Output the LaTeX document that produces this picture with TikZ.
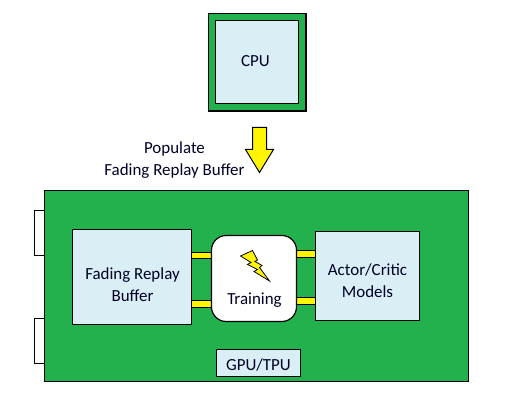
\documentclass[tikz,border=0pt]{standalone}
\usepackage{fontspec}
\setmainfont{Carlito}
\definecolor{boardgreen}{HTML}{22B14C}
\definecolor{paleblue}{HTML}{DAEEF6}
\definecolor{boltyellow}{HTML}{FFF500}
\tikzset{
  px/.style={x=0.75pt,y=-0.75pt},
  outline/.style={draw=black,line width=0.9pt},
  board/.style={outline,fill=boardgreen},
  panel/.style={outline,fill=paleblue},
  lbl/.style={font=\fontsize{12.7pt}{16.5pt}\selectfont,align=center,text=black!85!blue,inner sep=0pt},
  link/.style={draw=black,fill=boltyellow,line width=0.6pt},
}
\begin{document}
\begin{tikzpicture}[px]
\useasboundingbox (0,0) rectangle (519,409);
% add-on tabs
\draw[outline,fill=white] (44.5,210.5) -| (34.5,255.5) -- (44.5,255.5);
\draw[outline,fill=white] (44.5,318.5) -| (34.5,363.5) -- (44.5,363.5);
% CPU
\draw[board] (208.5,13.5) rectangle (306,111);
\draw[panel] (215.5,20.5) rectangle (298.5,103.5);
\node[lbl] (cpu) at (255.5,61) {CPU};
% arrow
\draw[outline,fill=boltyellow,line width=0.75pt] (252.5,127.5) -- (266.5,127.5) -- (266.5,149.5) -- (273.5,149.5) -- (259.5,172.5) -- (245.5,149.5) -- (252.5,149.5) -- cycle;
\node[lbl] (pop) at (174.5,160) {Populate\\Fading Replay Buffer};
% board
\draw[board] (44.5,190.5) rectangle (468.5,381.5);
% links
\draw[link] (191.5,252) rectangle (211.5,258.5);
\draw[link] (191.5,300.5) rectangle (211.5,307);
\draw[link] (296.5,250) rectangle (315.5,257);
\draw[link] (296.5,297) rectangle (315.5,304);
% boxes
\draw[panel] (72.5,229.5) rectangle (191.5,324.5);
\node[lbl] (frb) at (132.5,285) {Fading Replay\\Buffer};
\draw[panel] (315.5,231.5) rectangle (419.5,320.5);
\node[lbl] (ac) at (367.5,280.5) {Actor/Critic\\Models};
\draw[outline,fill=white,rounded corners=11pt] (211.5,235.5) rectangle (296.5,321.5);
\node[lbl] (tr) at (254.5,300.5) {Training};
\draw[draw=black,fill=boltyellow,line width=0.6pt] (240.5,256) -- (252.5,250.5) -- (257.5,260) -- (255,261.5) -- (262,265.5) -- (259.5,267.5) -- (269.5,281) -- (254,271.5) -- (257.5,269.5) -- (247.5,264.5) -- (251,262.5) -- cycle;
\draw[panel] (216.5,349.5) rectangle (300.5,376.5);
\node[lbl] (gpu) at (258.5,364.5) {GPU/TPU};
\end{tikzpicture}
\end{document}
